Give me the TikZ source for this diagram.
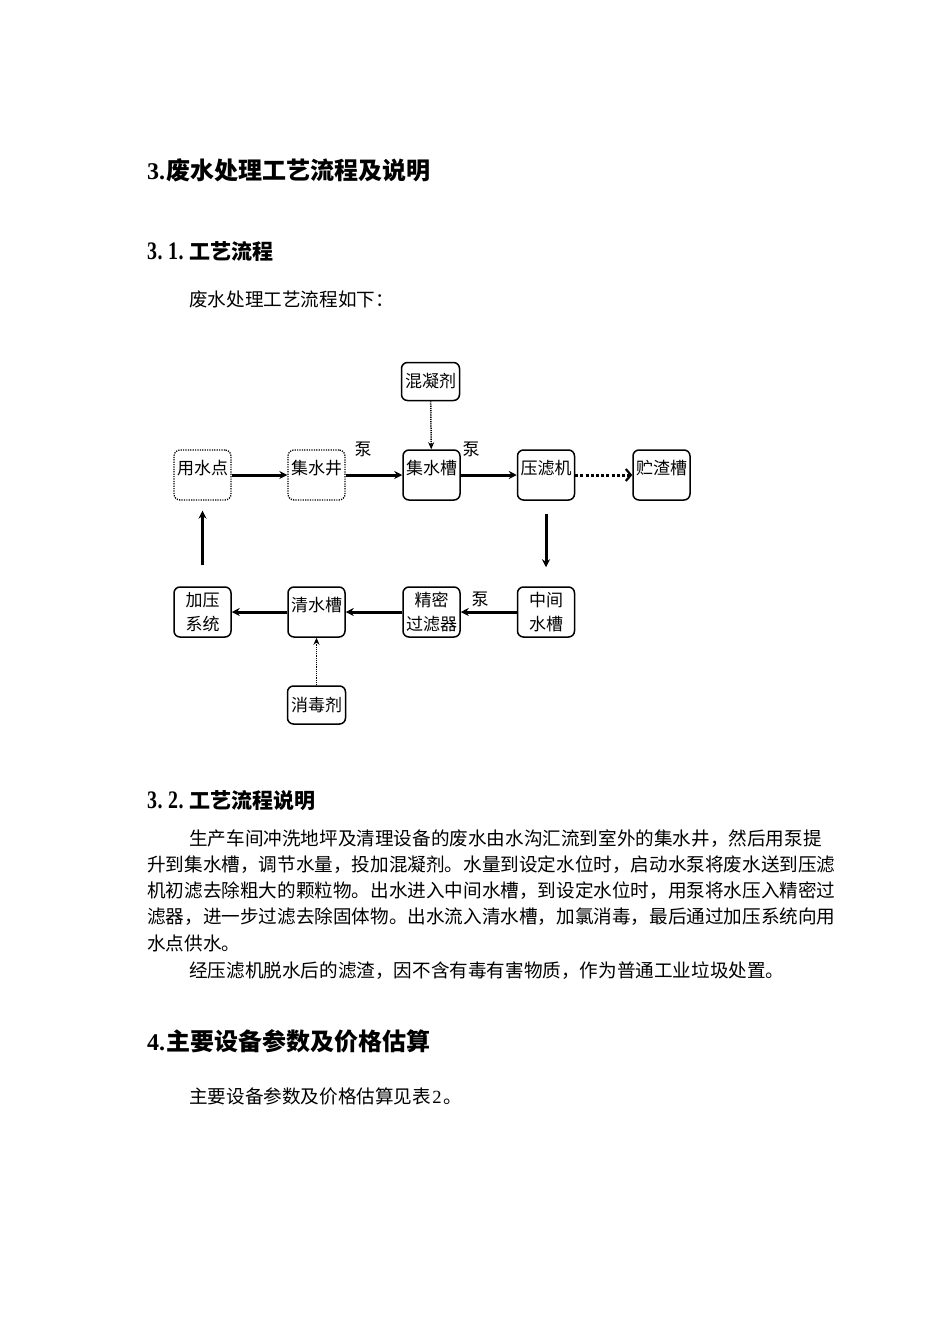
\documentclass[tikz,border=0pt]{standalone}
\usepackage{fontspec}
\usepackage{graphicx}
\setmainfont{Noto Sans CJK SC}
\newfontfamily\cjk{Noto Sans CJK SC}
\newfontfamily\serifdig{Liberation Serif}
\usetikzlibrary{arrows.meta}
\newcommand{\hwd}[2]{\makebox[#1][l]{\serifdig #2}}
\newcommand{\tdg}[1]{\makebox[10.5pt][l]{\serifdig\scalebox{0.95}[1.2]{#1}}}
\tikzset{
  box/.style={draw, line width=1.5pt, rounded corners=6pt, minimum width=57pt, minimum height=50pt, inner sep=0pt, font=\fontsize{17}{17}\selectfont, text height=15pt, text depth=16pt},
  dbox/.style={box, line width=1.3pt, dash pattern=on 1.2pt off 1.2pt},
  box2/.style={draw, line width=1.5pt, rounded corners=6pt, minimum width=57pt, minimum height=50pt, inner sep=0pt, font=\fontsize{17}{24}\selectfont, align=center},
  sbox/.style={draw, line width=1.5pt, rounded corners=6pt, minimum width=58pt, minimum height=38pt, inner sep=0pt, font=\fontsize{17}{17}\selectfont},
  flow/.style={line width=3pt, -{Stealth[length=8pt,width=8pt]}},
  dflow/.style={line width=3pt, dash pattern=on 3pt off 2.2pt, -{Straight Barb[length=5pt,width=12pt,line width=2.2pt]}},
  aflow/.style={line width=1.5pt, dash pattern=on 1.2pt off 1pt, -{Stealth[length=7pt,width=6pt]}},
  lbl/.style={font=\fontsize{17}{17}\selectfont, inner sep=0pt},
  h1/.style={anchor=base west, inner sep=0pt, font=\fontsize{24}{24}\selectfont\bfseries},
  h2/.style={anchor=base west, inner sep=0pt, font=\fontsize{21}{21}\selectfont\bfseries},
  body/.style={anchor=base west, inner sep=0pt, font=\fontsize{18.6}{18.6}\selectfont},
}
\begin{document}
\begin{tikzpicture}[x=1pt, y=-1pt]
\useasboundingbox (0,0) rectangle (950,1344);
\fill[white] (0,0) rectangle (950,1344);
% headings and text
\node[h1] (t1) at (147,179) {\hwd{19pt}{3.}废水处理工艺流程及说明};
\node[h2] (t2) at (147,259) {\tdg{3}\tdg{.}\tdg{1}\tdg{.}工艺流程};
\node[body] (t3) at (189,306) {废水处理工艺流程如下：};
\node[h2] (t4) at (147,808) {\tdg{3}\tdg{.}\tdg{2}\tdg{.}工艺流程说明};
\node[body] (p1) at (189,845) {生产车间冲洗地坪及清理设备的废水由水沟汇流到室外的集水井，然后用泵提};
\node[body] (p2) at (147,871) {升到集水槽，调节水量，投加混凝剂。水量到设定水位时，启动水泵将废水送到压滤};
\node[body] (p3) at (147,897) {机初滤去除粗大的颗粒物。出水进入中间水槽，到设定水位时，用泵将水压入精密过};
\node[body] (p4) at (147,923) {滤器，进一步过滤去除固体物。出水流入清水槽，加氯消毒，最后通过加压系统向用};
\node[body] (p5) at (147,950) {水点供水。};
\node[body] (p6) at (189,977) {经压滤机脱水后的滤渣，因不含有毒有害物质，作为普通工业垃圾处置。};
\node[h1] (t5) at (147,1050) {\hwd{19pt}{4.}主要设备参数及价格估算};
\node[body] (t6) at (189,1103) {主要设备参数及价格估算见表\makebox[12pt][c]{\serifdig 2}。};
% diagram nodes
\node[dbox] (ysd) at (202.5,475) {用水点};
\node[dbox] (jsj) at (316.5,475) {集水井};
\node[box] (jsc) at (431.5,475) {集水槽};
\node[box] (ylj) at (546,475) {压滤机};
\node[box] (zzc) at (661.5,475) {贮渣槽};
\node[sbox] (hnj) at (430.5,381.5) {混凝剂};
\node[box2] (jyx) at (202.5,612) {加压\\系统};
\node[box] (qsc) at (316.5,612) {清水槽};
\node[box2] (jmg) at (431.5,612) {精密\\过滤器};
\node[box2] (zjs) at (546,612) {中间\\水槽};
\node[sbox] (xdj) at (316.5,705) {消毒剂};
% connectors
\draw[flow] (ysd) -- (jsj);
\draw[flow] (jsj) -- (jsc);
\draw[flow] (jsc) -- (ylj);
\draw[dflow] (ylj) -- (zzc);
\draw[aflow] (hnj) -- (jsc);
\draw[flow, shorten <=13pt, shorten >=19pt] (ylj) -- (zjs);
\draw[flow] (zjs) -- (jmg);
\draw[flow] (jmg) -- (qsc);
\draw[flow] (qsc) -- (jyx);
\draw[aflow] (xdj) -- (qsc);
\draw[flow, shorten <=21pt, shorten >=10pt] (jyx) -- (ysd);
% labels
\node[lbl] (b1) at (363,449) {泵};
\node[lbl] (b2) at (471,449) {泵};
\node[lbl] (b3) at (480,599) {泵};
\end{tikzpicture}
\end{document}
